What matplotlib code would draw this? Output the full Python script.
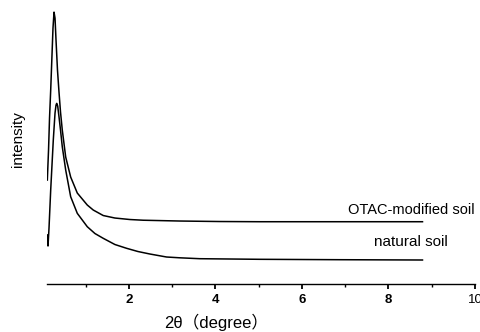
import matplotlib
matplotlib.use('Agg')
import matplotlib.pyplot as plt
from matplotlib.ticker import MultipleLocator

# 2-theta (degree) and intensity (arbitrary units)
otac_x = [0.111, 0.139, 0.162, 0.189, 0.219, 0.242, 0.266, 0.289, 0.312, 0.346, 0.381,
          0.416, 0.457, 0.536, 0.651, 0.804, 1.035, 1.173, 1.404, 1.674, 2.021, 2.328,
          3.176, 4.099, 5.023, 6.871, 8.788]
otac_y = [104, 134, 166, 194, 229, 256, 272, 266, 244, 214, 192,
          172, 154, 127, 107, 91, 79, 74, 68.5, 66, 64.5, 63.8,
          63, 62.5, 62.3, 62.3, 62.3]

nat_x = [0.111, 0.127, 0.150, 0.189, 0.219, 0.249, 0.289, 0.312, 0.328, 0.351, 0.381,
         0.416, 0.457, 0.536, 0.651, 0.804, 1.035, 1.212, 1.404, 1.674, 1.945, 2.206,
         2.483, 2.868, 3.176, 3.637, 5.023, 6.871, 8.788]
nat_y = [49, 38, 56, 94, 119, 144, 171, 179, 180.7, 178, 167.3,
         154, 137.3, 114, 87.3, 70.7, 57.3, 50.5, 45.7, 39.5, 35.7, 32.5,
         30, 27, 26.2, 25.3, 24.7, 24.3, 24]

labels = ['OTAC-modified soil', 'natural soil']
label_pos = [(8.52, 74), (8.52, 42.3)]
label_size = [10.5, 11]

fig = plt.figure(figsize=(4.81, 3.32), dpi=100)
ax = fig.add_axes([0.0983, 0.1446, 0.889, 0.855])

ax.plot(otac_x, otac_y, color='black', lw=1.1)
ax.plot(nat_x, nat_y, color='black', lw=1.1)

for lab, (tx, ty), fs in zip(labels, label_pos, label_size):
    ax.text(tx, ty, lab, ha='center', va='center', fontsize=fs,
            family='Liberation Sans')

ax.set_xlim(0.11, 10)
ax.set_ylim(0, 284)
for s in ['top', 'right', 'left']:
    ax.spines[s].set_visible(False)
ax.spines['bottom'].set_linewidth(1.0)
ax.set_yticks([])
ax.xaxis.set_major_locator(MultipleLocator(2))
ax.xaxis.set_minor_locator(MultipleLocator(1))
ax.tick_params(axis='x', which='major', direction='out', length=3.5, width=1.3, pad=3.5,
               labelsize=9.5)
ax.tick_params(axis='x', which='minor', direction='out', length=2.5, width=1.0)
fig.canvas.draw()
for t in ax.get_xticklabels():
    t.set_family('Liberation Sans')
    if t.get_text() != '10':
        t.set_fontweight('bold')

fig.text(18 / 481, 1 - 139 / 332, 'intensity', rotation=90, ha='center', va='center',
         fontsize=11, family='Liberation Sans')
fig.text(216 / 481, 1 - 322 / 332, '2θ（degree）', ha='center', va='center',
         fontsize=12, family=['Liberation Sans', 'Noto Sans CJK SC'])

fig.savefig('out.png', dpi=100)
